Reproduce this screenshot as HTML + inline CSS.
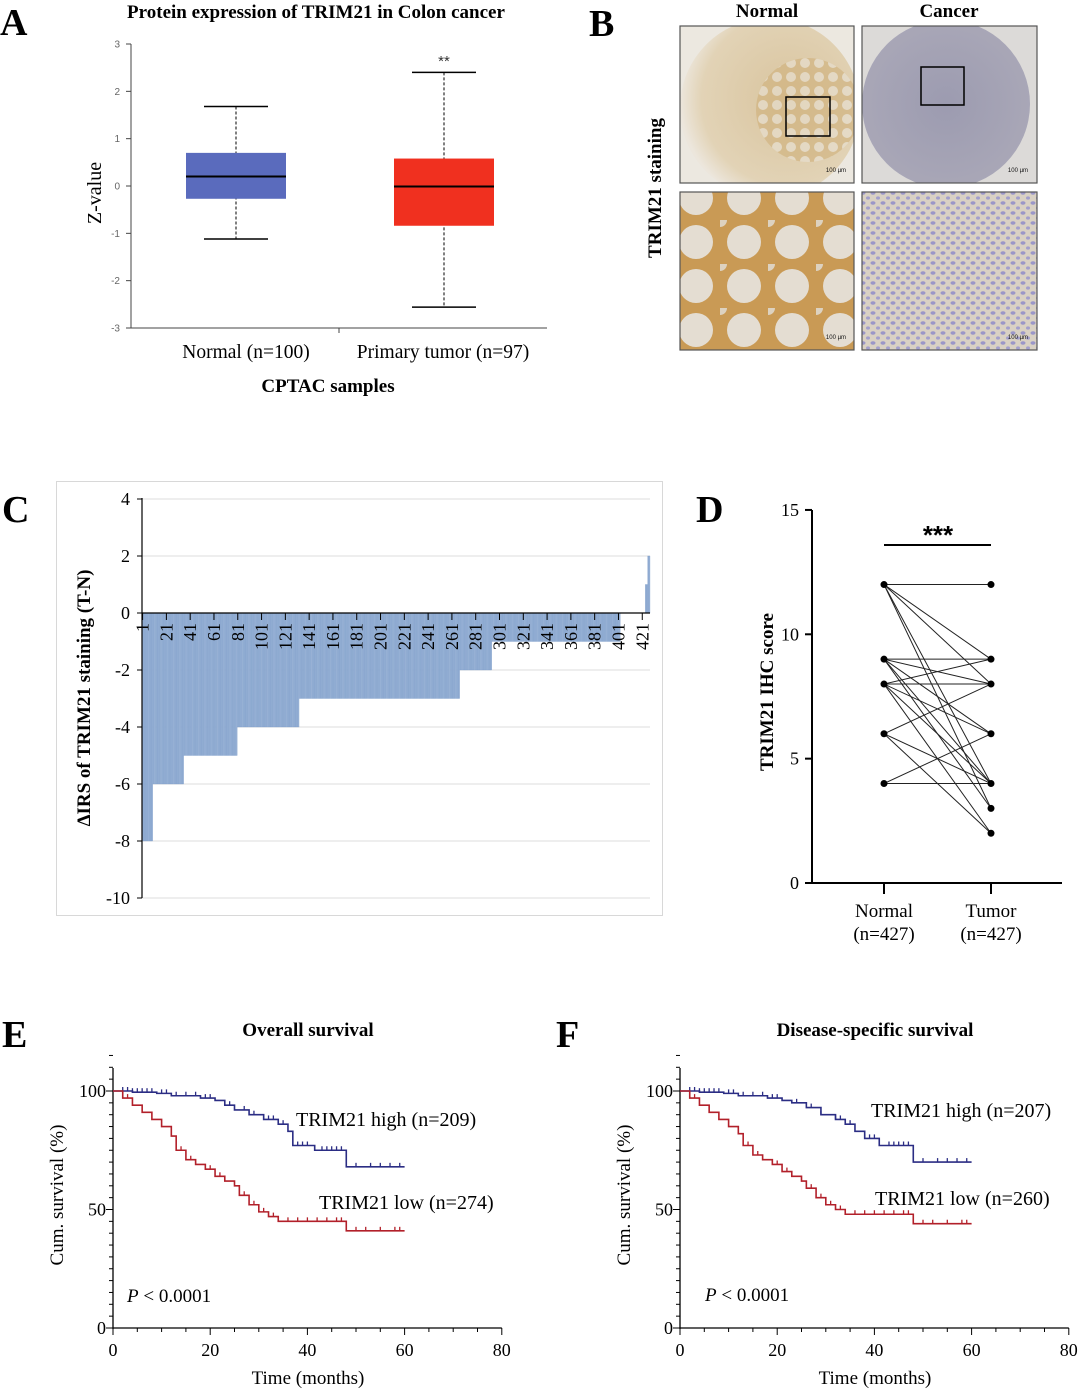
<!DOCTYPE html>
<html><head><meta charset="utf-8">
<style>
html,body{margin:0;padding:0;background:#fff;}
svg{display:block;font-family:"Liberation Serif",serif;}
.sans{font-family:"Liberation Sans",sans-serif;}
</style></head>
<body>
<svg id="fig" width="1080" height="1391" viewBox="0 0 1080 1391" xmlns="http://www.w3.org/2000/svg">
<defs>
<radialGradient id="gN" cx="0.6" cy="0.45" r="0.6"><stop offset="0" stop-color="#d9c49e"/><stop offset="0.8" stop-color="#e2d3b6"/><stop offset="1" stop-color="#ece6dc"/></radialGradient>
<radialGradient id="gC" cx="0.5" cy="0.5" r="0.6"><stop offset="0" stop-color="#9c9bb0"/><stop offset="0.85" stop-color="#a9a7b7"/><stop offset="1" stop-color="#d8d6d6"/></radialGradient>
<pattern id="pN" width="14" height="14" patternUnits="userSpaceOnUse"><rect width="14" height="14" fill="#cfb07a"/><circle cx="7" cy="7" r="5" fill="#e8e1d4"/></pattern>
<pattern id="pNb" width="48" height="44" patternUnits="userSpaceOnUse"><rect width="48" height="44" fill="#c99a55"/><circle cx="24" cy="22" r="17" fill="#e4ddd2"/><circle cx="0" cy="0" r="7" fill="#ddd2c0"/></pattern>
<pattern id="pC" width="10" height="10" patternUnits="userSpaceOnUse"><rect width="10" height="10" fill="#d9d1c4"/><ellipse cx="3" cy="3" rx="2.5" ry="1.7" fill="#9a96c8"/><ellipse cx="8" cy="8" rx="2" ry="1.6" fill="#a39fcc"/></pattern>
<clipPath id="cNT"><rect x="680" y="26" width="174" height="157"/></clipPath>
<clipPath id="cCT"><rect x="862" y="26" width="175" height="157"/></clipPath>
</defs>
</svg>
<script>
// ---------- data ----------
const boxCategories = ["Normal (n=100)", "Primary tumor  (n=97)"];
const boxMin = [-1.12, -2.56];
const boxQ1 = [-0.27, -0.84];
const boxMedian = [0.2, -0.01];
const boxQ3 = [0.7, 0.58];
const boxMax = [1.68, 2.4];
const boxTicks = [3, 2, 1, 0, -1, -2, -3];

const irsValues = [-8, -6, -5, -4, -3, -2, -1, 0, 1, 2];
const irsCounts = [9, 26, 45, 52, 135, 27, 108, 21, 2, 2];
const irsYTicks = [4, 2, 0, -2, -4, -6, -8, -10];
const irsXLabels = ["1","21","41","61","81","101","121","141","161","181","201","221","241","261","281","301","321","341","361","381","401","421"];

const pairNormal = [12,12,12,12,12,9,9,9,9,9,8,8,8,8,8,6,6,6,4,4];
const pairTumor  = [12,9,8,4,3,9,8,6,4,3,9,8,6,4,2,8,4,2,6,4];
const ihcTicks = [0, 5, 10, 15];

const osHighT = [0,4,9,12,18,21,23,25,28,31,34,36,37,41.5,48,60];
const osHighS = [100,99.5,99,98,97,96,94,92,90,88,86,83,77,75,68,68];
const osLowT = [0,2,4,6,8,10,12,13,15,17,19,21,23,25,26,28,30,32,34,48,60];
const osLowS = [100,97,94,91,88,85,81,75,71,69,67,64,62,60,56,52,49,47,45,41,41];
const osHighCens = [2,3,4,5,6,7,8,10,11,13,15,17,19,20,24,27,29,32,33,35,38,39,40,43,44,45,46,47,50,53,55,57,59];
const osLowCens = [3,14,16,20,22,27,29,31,33,36,38,40,42,44,46,47,50,52,55,58,59];

const dsHighT = [0,4,9,12,18,21,23,26,29,32,34,36,38,41,48,60];
const dsHighS = [100,99.5,99,98,97,96,95,93,90,88,86,83,80,77,70,70];
const dsLowT = [0,2,4,6,8,10,12,13,15,17,19,21,23,25,26,28,30,32,34,48,60];
const dsLowS = [100,97,94,91,88,85,82,77,73,71,69,66,64,62,59,55,52,50,48,44,44];
const dsHighCens = [2,3,4,5,6,7,8,10,11,13,15,17,19,20,24,27,29,32,33,35,38,39,40,43,44,45,46,47,50,53,55,57,59];
const dsLowCens = [3,14,16,20,22,27,29,31,33,36,38,40,42,44,46,47,50,52,55,58,59];
const survXTicks = [0,20,40,60,80];
const survYTicks = [0,50,100];

// ---------- helpers ----------
const svg = document.getElementById('fig');
const NS = 'http://www.w3.org/2000/svg';
function mk(tag, attrs, parent){ const e=document.createElementNS(NS,tag); for(const k in attrs) e.setAttribute(k,attrs[k]); (parent||svg).appendChild(e); return e; }
function txt(s, attrs, parent){ const e=mk('text',attrs,parent); e.textContent=s; return e; }

// panel letters
const letters=[["A",0,35],["B",589,36],["C",2,522],["D",696,522],["E",2,1047],["F",556,1047]];
letters.forEach(l=>{
  const t=txt(l[0],{x:l[1],y:l[2],'font-size':38,'font-weight':'bold'});
  
  
});

// ---------- Panel A ----------
(function(){
  const g=mk('g',{});
  
  
  const y=v=>186-v*47.33;
  const xc=[236,444];
  const colors=['#5a6bbd','#f0301f'];
  let t=txt('Protein expression of TRIM21 in Colon cancer',{x:316,y:18,'font-size':19,'font-weight':'bold','text-anchor':'middle'},g);
  
  
  mk('line',{x1:131,y1:44,x2:131,y2:328,stroke:'#444','stroke-width':1},g);
  mk('line',{x1:131,y1:328,x2:547,y2:328,stroke:'#444','stroke-width':1},g);
  mk('line',{x1:339,y1:328,x2:339,y2:333,stroke:'#444'},g);
  boxTicks.forEach(v=>{
    mk('line',{x1:126,y1:y(v),x2:131,y2:y(v),stroke:'#444'},g);
    const tk=txt(String(v),{x:120,y:y(v)+3.5,'font-size':10,'text-anchor':'end',fill:'#666',class:'sans'},g);
    
    
  });
  boxCategories.forEach((c,i)=>{
    const x=xc[i];
    mk('line',{x1:x,y1:y(boxMax[i]),x2:x,y2:y(boxMin[i]),stroke:'#000','stroke-dasharray':'3,2'},g);
    mk('line',{x1:x-32,y1:y(boxMax[i]),x2:x+32,y2:y(boxMax[i]),stroke:'#000','stroke-width':1.5},g);
    mk('line',{x1:x-32,y1:y(boxMin[i]),x2:x+32,y2:y(boxMin[i]),stroke:'#000','stroke-width':1.5},g);
    const r=mk('rect',{x:x-50,y:y(boxQ3[i]),width:100,height:y(boxQ1[i])-y(boxQ3[i]),fill:colors[i]},g);
    
    
    mk('line',{x1:x-50,y1:y(boxMedian[i]),x2:x+50,y2:y(boxMedian[i]),stroke:'#000','stroke-width':2},g);
    const lb=txt(c,{x:x+(i?-1:10),y:358,'font-size':19.5,'text-anchor':'middle','xml:space':'preserve'},g);
    
    
  });
  t=txt('**',{x:444,y:66,'font-size':15,'text-anchor':'middle',fill:'#333',class:'sans'},g);
  
  
  t=txt('CPTAC samples',{x:328,y:392,'font-size':19,'font-weight':'bold','text-anchor':'middle'},g);
  
  
  t=txt('Z-value',{x:0,y:0,'font-size':20,'text-anchor':'middle',transform:'translate(101,193) rotate(-90)'},g);
  
  
})();

// ---------- Panel B ----------
(function(){
  const g=mk('g',{});
  
  
  let t=txt('Normal',{x:767,y:17,'font-size':19,'font-weight':'bold','text-anchor':'middle'},g);
  
  
  t=txt('Cancer',{x:949,y:17,'font-size':19,'font-weight':'bold','text-anchor':'middle'},g);
  
  
  t=txt('TRIM21 staining',{x:0,y:0,'font-size':19,'font-weight':'bold','text-anchor':'middle',transform:'translate(661,188) rotate(-90)'},g);
  
  
  // normal top
  const gn=mk('g',{'clip-path':'url(#cNT)'},g);
  mk('rect',{x:680,y:26,width:174,height:157,fill:'#ece8e0'},gn);
  mk('circle',{cx:770,cy:108,r:90,fill:'url(#gN)'},gn);
  mk('circle',{cx:808,cy:110,r:52,fill:'url(#pN)',opacity:0.6},gn);
  mk('rect',{x:680,y:26,width:174,height:157,fill:'none',stroke:'#555','stroke-width':1.2},g);
  mk('rect',{x:786,y:97,width:44,height:39,fill:'none',stroke:'#000','stroke-width':1.5},g);
  // cancer top
  const gc=mk('g',{'clip-path':'url(#cCT)'},g);
  mk('rect',{x:862,y:26,width:175,height:157,fill:'#dcdad8'},gc);
  mk('circle',{cx:946,cy:104,r:84,fill:'url(#gC)'},gc);
  mk('rect',{x:862,y:26,width:175,height:157,fill:'none',stroke:'#555','stroke-width':1.2},g);
  mk('rect',{x:921,y:67,width:43,height:38,fill:'none',stroke:'#000','stroke-width':1.5},g);
  // normal bottom
  mk('rect',{x:680,y:192,width:174,height:158,fill:'url(#pNb)'},g);
  mk('rect',{x:680,y:192,width:174,height:158,fill:'none',stroke:'#555','stroke-width':1.2},g);
  // cancer bottom
  mk('rect',{x:862,y:192,width:175,height:158,fill:'url(#pC)'},g);
  mk('rect',{x:862,y:192,width:175,height:158,fill:'none',stroke:'#555','stroke-width':1.2},g);
  [[836,172],[1018,172],[836,339],[1018,339]].forEach(p=>{
    txt('100 µm',{x:p[0],y:p[1],'font-size':6,'text-anchor':'middle',fill:'#111',class:'sans'},g);
  });
})();

// ---------- Panel C ----------
(function(){
  const g=mk('g',{});
  
  
  mk('rect',{x:56.5,y:481.5,width:606,height:434,fill:'none',stroke:'#d8d8d8'},g);
  const y=v=>613-v*28.5;
  const x0=142, total=irsCounts.reduce((a,b)=>a+b,0), bw=508/total;
  irsYTicks.forEach(v=>{
    if(v!==0) mk('line',{x1:142,y1:y(v),x2:650,y2:y(v),stroke:'#ddd'},g);
    mk('line',{x1:137,y1:y(v),x2:142,y2:y(v),stroke:'#000'},g);
    const tk=txt(String(v),{x:130,y:y(v)+6,'font-size':18,'text-anchor':'end'},g);
    
    
  });
  let idx=0;
  irsValues.forEach((v,k)=>{
    for(let j=0;j<irsCounts[k];j++){
      if(v!==0){
        const b=mk('rect',{x:x0+idx*bw,y:Math.min(y(v),y(0)),width:bw,height:Math.abs(y(v)-y(0)),fill:'#9ab3d6',stroke:'#7194c4','stroke-width':0.25},g);
        
        
      }
      idx++;
    }
  });
  mk('line',{x1:142,y1:498,x2:142,y2:898,stroke:'#000','stroke-width':1.2},g);
  mk('line',{x1:142,y1:613,x2:650,y2:613,stroke:'#000','stroke-width':1.2},g);
  irsXLabels.forEach((s,i)=>{
    const n=parseInt(s,10);
    const xx=x0+(n-0.5)*bw;
    mk('line',{x1:xx,y1:613,x2:xx,y2:620,stroke:'#000'},g);
    const tk=txt(s,{x:0,y:0,'font-size':18,'text-anchor':'end',transform:'translate('+(xx+6)+',623) rotate(-90)'},g);
    
    
  });
  const t=txt('ΔIRS of TRIM21 staining (T-N)',{x:0,y:0,'font-size':19,'font-weight':'bold','text-anchor':'middle',transform:'translate(90,698) rotate(-90)'},g);
  
  
})();

// ---------- Panel D ----------
(function(){
  const g=mk('g',{});
  
  
  const y=v=>883-v*24.87;
  const xn=884, xt=991;
  mk('line',{x1:812,y1:510,x2:812,y2:884,stroke:'#000','stroke-width':2},g);
  mk('line',{x1:811,y1:883,x2:1062,y2:883,stroke:'#000','stroke-width':2},g);
  ihcTicks.forEach(v=>{
    mk('line',{x1:805,y1:y(v),x2:812,y2:y(v),stroke:'#000','stroke-width':2},g);
    const tk=txt(String(v),{x:799,y:y(v)+6,'font-size':18,'text-anchor':'end'},g);
    
    
  });
  [xn,xt].forEach(x=>mk('line',{x1:x,y1:883,x2:x,y2:894,stroke:'#000','stroke-width':2},g));
  pairNormal.forEach((a,i)=>{
    const l=mk('line',{x1:xn,y1:y(a),x2:xt,y2:y(pairTumor[i]),stroke:'#222','stroke-width':1},g);
    
    
  });
  [...new Set(pairNormal)].forEach(v=>{
    const c=mk('circle',{cx:xn,cy:y(v),r:3.5,fill:'#000'},g);
    
    
  });
  [...new Set(pairTumor)].forEach(v=>{
    const c=mk('circle',{cx:xt,cy:y(v),r:3.5,fill:'#000'},g);
    
    
  });
  mk('line',{x1:xn,y1:545,x2:xt,y2:545,stroke:'#000','stroke-width':2},g);
  let t=txt('***',{x:938,y:544,'font-size':26,'font-weight':'bold','text-anchor':'middle',class:'sans'},g);
  
  
  [['Normal',xn],['Tumor',xt]].forEach(p=>{
    const a=txt(p[0],{x:p[1],y:917,'font-size':19,'text-anchor':'middle'},g);
    
    
    txt('(n=427)',{x:p[1],y:940,'font-size':19,'text-anchor':'middle'},g);
  });
  t=txt('TRIM21 IHC score',{x:0,y:0,'font-size':19,'font-weight':'bold','text-anchor':'middle',transform:'translate(773,692) rotate(-90)'},g);
  
  
})();

// ---------- Panels E/F ----------
function survival(name, ox, title, hiT, hiS, loT, loS, hiC, loC, hiLab, loLab, hiPos, loPos, pPos){
  const g=mk('g',{});
  
  
  const x=t=>ox+t*4.86;
  const y=s=>1328-s*2.37;
  let t=txt(title,{x:ox+195,y:1036,'font-size':19,'font-weight':'bold','text-anchor':'middle'},g);
  
  
  mk('line',{x1:ox,y1:1068,x2:ox,y2:1329,stroke:'#000','stroke-width':1.3},g);
  mk('line',{x1:ox,y1:1328,x2:x(80),y2:1328,stroke:'#000','stroke-width':1.3},g);
  for(let s=0;s<=100;s+=5){ mk('line',{x1:ox-(s%50===0?7:4),y1:y(s),x2:ox,y2:y(s),stroke:'#000'},g); }
  for(let s=105;s<=115;s+=5){ mk('line',{x1:ox-4,y1:y(s),x2:ox,y2:y(s),stroke:'#000'},g); }
  for(let m=0;m<=80;m+=5){ mk('line',{x1:x(m),y1:1328,x2:x(m),y2:1328+(m%20===0?7:4),stroke:'#000'},g); }
  survYTicks.forEach(v=>{
    const tk=txt(String(v),{x:ox-7,y:y(v)+6,'font-size':18,'text-anchor':'end'},g);
    
    
  });
  survXTicks.forEach(v=>{
    const tk=txt(String(v),{x:x(v),y:1356,'font-size':18,'text-anchor':'middle'},g);
    
    
  });
  function curve(T,S,C,col,nm){
    let d='M'+x(T[0])+','+y(S[0]);
    for(let i=1;i<T.length;i++){ d+=' H'+x(T[i])+' V'+y(S[i]); }
    const p=mk('path',{d:d,fill:'none',stroke:col,'stroke-width':1.6},g);
    
    
    C.forEach(c=>{
      let s=S[0]; for(let i=0;i<T.length;i++){ if(T[i]<=c) s=S[i]; }
      mk('line',{x1:x(c),y1:y(s),x2:x(c),y2:y(s)-4,stroke:col,'stroke-width':1.3},g);
    });
  }
  curve(hiT,hiS,hiC,'#2b2d84','curve-trim21-high');
  curve(loT,loS,loC,'#b2202a','curve-trim21-low');
  t=txt(hiLab,{x:hiPos[0],y:hiPos[1],'font-size':20},g);
  
  
  t=txt(loLab,{x:loPos[0],y:loPos[1],'font-size':20},g);
  
  
  t=mk('text',{x:pPos[0],y:pPos[1],'font-size':19},g);
  t.innerHTML='<tspan font-style="italic">P</tspan> &lt; 0.0001';
  
  
  t=txt('Cum. survival (%)',{x:0,y:0,'font-size':19,'text-anchor':'middle',transform:'translate('+(ox-50)+',1195) rotate(-90)'},g);
  
  
  t=txt('Time (months)',{x:ox+195,y:1384,'font-size':19,'text-anchor':'middle'},g);
  
  
}
survival('panel-e-overall-survival',113,'Overall survival',osHighT,osHighS,osLowT,osLowS,osHighCens,osLowCens,'TRIM21 high (n=209)','TRIM21 low (n=274)',[296,1126],[319,1209],[127,1302]);
survival('panel-f-disease-specific-survival',680,'Disease-specific survival',dsHighT,dsHighS,dsLowT,dsLowS,dsHighCens,dsLowCens,'TRIM21 high (n=207)','TRIM21 low (n=260)',[871,1117],[875,1205],[705,1301]);
</script>
</body></html>
